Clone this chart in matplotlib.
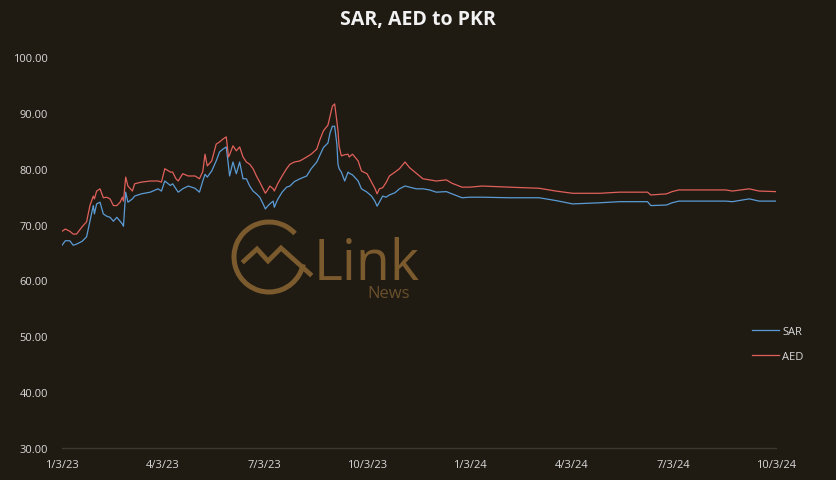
import matplotlib
matplotlib.use("Agg")
import matplotlib.pyplot as plt
import matplotlib.patches as mpatches
import pandas as pd

# values (PKR per unit)
dates = [
    "2023-01-03", "2023-01-06", "2023-01-10", "2023-01-13", "2023-01-16", "2023-01-21",
    "2023-01-25", "2023-01-28", "2023-01-31", "2023-02-01", "2023-02-03", "2023-02-06",
    "2023-02-09", "2023-02-12", "2023-02-15", "2023-02-18", "2023-02-21", "2023-02-24",
    "2023-02-26", "2023-02-27", "2023-03-01", "2023-03-03", "2023-03-07", "2023-03-09",
    "2023-03-15", "2023-03-23", "2023-03-30", "2023-04-02", "2023-04-05", "2023-04-10",
    "2023-04-12", "2023-04-15", "2023-04-17", "2023-04-21", "2023-04-26", "2023-05-02",
    "2023-05-06", "2023-05-09", "2023-05-11", "2023-05-13", "2023-05-17", "2023-05-21",
    "2023-05-24", "2023-05-27", "2023-05-30", "2023-06-01", "2023-06-02", "2023-06-05",
    "2023-06-08", "2023-06-11", "2023-06-14", "2023-06-17", "2023-06-20", "2023-06-23",
    "2023-06-26", "2023-06-29", "2023-07-02", "2023-07-04", "2023-07-06", "2023-07-08",
    "2023-07-11", "2023-07-12", "2023-07-15", "2023-07-19", "2023-07-23", "2023-07-26",
    "2023-07-30", "2023-08-04", "2023-08-10", "2023-08-14", "2023-08-19", "2023-08-22",
    "2023-08-25", "2023-08-29", "2023-08-31", "2023-09-02", "2023-09-04", "2023-09-06",
    "2023-09-07", "2023-09-08", "2023-09-10", "2023-09-13", "2023-09-16", "2023-09-17",
    "2023-09-20", "2023-09-25", "2023-09-28", "2023-10-03", "2023-10-07", "2023-10-10",
    "2023-10-12", "2023-10-14", "2023-10-17", "2023-10-20", "2023-10-23", "2023-10-28",
    "2023-11-01", "2023-11-06", "2023-11-10", "2023-11-16", "2023-11-22", "2023-11-28",
    "2023-12-04", "2023-12-13", "2023-12-18", "2023-12-27", "2024-01-03", "2024-01-14",
    "2024-02-07", "2024-03-05", "2024-03-20", "2024-04-04", "2024-04-28", "2024-05-16",
    "2024-06-10", "2024-06-13", "2024-06-27", "2024-07-02", "2024-07-08", "2024-08-19",
    "2024-08-25", "2024-09-09", "2024-09-18", "2024-10-03",
]
sar = [
    66.3, 67.1, 67.1, 66.3, 66.5, 67.0, 67.8, 70.6, 73.4, 71.9, 73.7, 74.0,
    71.9, 71.5, 71.3, 70.6, 71.3, 70.6, 70.1, 69.7, 75.8, 74.0, 74.6, 75.1,
    75.5, 75.8, 76.4, 76.0, 77.8, 77.0, 77.3, 76.4, 75.8, 76.4, 76.9, 76.5,
    75.8, 77.8, 79.0, 78.5, 79.6, 81.4, 83.0, 83.5, 83.9, 80.5, 78.7, 81.2,
    79.1, 81.2, 78.2, 78.2, 76.9, 76.0, 75.5, 74.9, 73.7, 72.8, 73.3, 73.7,
    74.2, 73.1, 74.5, 75.8, 76.7, 76.9, 77.7, 78.2, 78.7, 80.0, 81.2, 82.5,
    83.8, 84.6, 86.5, 87.6, 87.6, 84.4, 80.8, 80.0, 79.4, 77.8, 79.4, 79.2,
    78.9, 77.8, 76.4, 75.8, 75.1, 74.2, 73.3, 74.0, 75.1, 74.9, 75.3, 75.7,
    76.4, 76.9, 76.7, 76.4, 76.4, 76.2, 75.8, 75.9, 75.5, 74.8, 74.9, 74.9,
    74.8, 74.8, 74.3, 73.7, 73.9, 74.1, 74.1, 73.4, 73.5, 73.9, 74.2, 74.2,
    74.1, 74.6, 74.2, 74.2,
]
aed = [
    68.8, 69.2, 68.8, 68.3, 68.3, 69.6, 70.5, 73.4, 75.1, 74.6, 76.0, 76.4,
    74.8, 74.9, 74.6, 73.4, 73.4, 74.0, 74.9, 74.2, 78.5, 76.9, 76.0, 77.3,
    77.6, 77.8, 77.8, 77.6, 80.0, 79.4, 79.4, 78.2, 77.8, 79.1, 78.7, 78.7,
    78.2, 79.5, 82.6, 80.5, 81.4, 84.4, 84.8, 85.3, 85.7, 82.1, 82.5, 84.1,
    83.2, 83.9, 82.1, 81.2, 80.8, 80.0, 78.7, 77.6, 76.4, 75.6, 76.2, 76.9,
    76.4, 76.0, 77.3, 78.7, 80.0, 80.8, 81.2, 81.4, 82.1, 82.6, 83.5, 85.3,
    86.8, 87.8, 89.5, 91.2, 91.6, 88.5, 86.8, 84.0, 82.3, 82.5, 82.6, 82.1,
    82.6, 81.4, 79.6, 79.1, 77.6, 76.5, 75.5, 76.4, 76.6, 77.5, 78.7, 79.4,
    80.0, 81.2, 80.2, 79.2, 78.2, 78.0, 77.8, 78.0, 77.4, 76.7, 76.7, 76.9,
    76.7, 76.5, 76.0, 75.6, 75.6, 75.8, 75.8, 75.3, 75.5, 75.9, 76.2, 76.2,
    76.0, 76.4, 76.0, 75.9,
]
tick_dates = ["2023-01-03", "2023-04-03", "2023-07-03", "2023-10-03",
              "2024-01-03", "2024-04-03", "2024-07-03", "2024-10-03"]
tick_labels = ["1/3/23", "4/3/23", "7/3/23", "10/3/23",
               "1/3/24", "4/3/24", "7/3/24", "10/3/24"]
y_ticks = [30, 40, 50, 60, 70, 80, 90, 100]

BG = "#1f1b13"
TXT = "#d9d9d9"
BROWN = "#7b5a2e"
W, H = 836, 481

x = pd.to_datetime(dates)
font = ["Open Sans", "DejaVu Sans"]

fig = plt.figure(figsize=(W / 100, H / 100), dpi=100, facecolor=BG)

# watermark layer in pixel coordinates, behind the chart
wm = fig.add_axes([0, 0, 1, 1], zorder=0)
wm.set_xlim(0, W)
wm.set_ylim(H, 0)
wm.axis("off")
wm.add_patch(mpatches.Arc((269, 258), 70, 70, theta1=12, theta2=318,
                          color=BROWN, lw=3.6))
wm.plot([244, 257, 268, 281, 310], [262, 250, 262, 249, 275],
        color=BROWN, lw=3.4, solid_joinstyle="miter")
wm.text(314, 280, "Link", color=BROWN, fontsize=40, family=font,
        ha="left", va="baseline")
wm.text(367, 298, "News", color="#6a4f2c", fontsize=12, family=font,
        ha="left", va="baseline")

ax = fig.add_axes([62 / W, (H - 449) / H, (776 - 62) / W, (449 - 58) / H], zorder=1)
ax.set_facecolor("none")
ax.plot(x, sar, color="#5b9bd5", lw=0.9, label="SAR")
ax.plot(x, aed, color="#e0605a", lw=0.9, label="AED")

ax.set_xlim(pd.Timestamp("2023-01-03"), pd.Timestamp("2024-10-03"))
ax.set_ylim(30, 100)
ax.set_xticks(pd.to_datetime(tick_dates))
ax.set_xticklabels(tick_labels)
ax.set_yticks(y_ticks)
ax.set_yticklabels([f"{v:.2f}" for v in y_ticks])
ax.tick_params(length=0, colors=TXT, labelsize=8)
ax.tick_params(axis="y", pad=10)
ax.tick_params(axis="x", pad=8)
for lab in ax.get_xticklabels() + ax.get_yticklabels():
    lab.set_family(font)
for side in ("top", "right", "left"):
    ax.spines[side].set_visible(False)
ax.spines["bottom"].set_color("#3d3830")
ax.spines["bottom"].set_linewidth(1.0)

fig.text(0.5, 1 - 20 / H, "SAR, AED to PKR", ha="center", va="center",
         color="#f2f2f2", fontsize=14, fontweight="bold", family=font)

leg = ax.legend(loc="center left", bbox_to_anchor=(742 / W, 1 - 345 / H),
                bbox_transform=fig.transFigure, frameon=False,
                handlelength=2.4, handletextpad=0.3, labelspacing=1.3,
                prop={"family": font, "size": 8})
for t in leg.get_texts():
    t.set_color(TXT)

fig.savefig("out.png", dpi=100, facecolor=BG)
